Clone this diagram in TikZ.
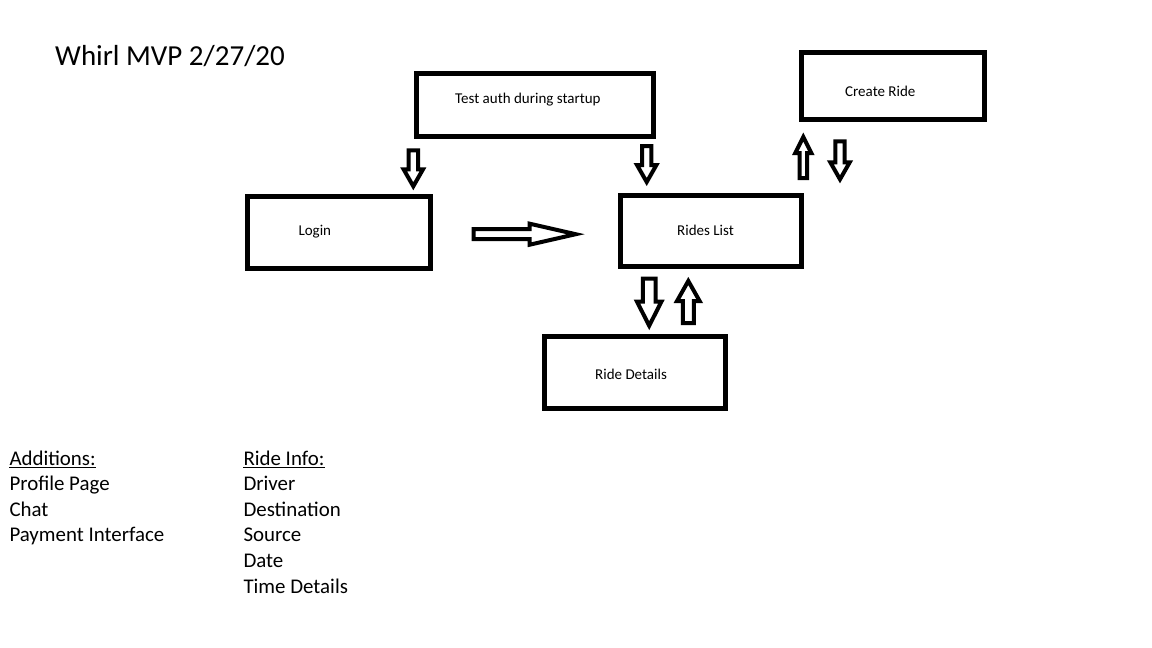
\documentclass[tikz,border=0pt]{standalone}
\usepackage{fontspec}
\setmainfont{Carlito}

\begin{document}
\begin{tikzpicture}[x=1pt,y=-1pt,
    screen/.style={draw,line width=5pt,inner sep=0pt},
    screenlabel/.style={anchor=base west,inner sep=0pt,font=\fontsize{15}{18}\selectfont},
    notes/.style={anchor=base west,inner sep=0pt,font=\fontsize{20.9}{26}\selectfont},
    arrowline/.style={line width=4pt,line join=miter},
    pics/blockarrow/.style args={#1/#2/#3/#4}{code={% length/head/shaft/head half widths
        \draw[arrowline] (0,#3) -- ({#1-#2},#3) -- ({#1-#2},#4) -- (#1,0)
            -- ({#1-#2},-#4) -- ({#1-#2},-#3) -- (0,-#3) -- cycle;}}]
    \fill[white] (0,0) rectangle (1152,648);% page size
    \node[anchor=base west,inner sep=0pt,font=\fontsize{29}{35}\selectfont] (title) at (55,65) {Whirl MVP 2/27/20};
    % screens
    \node[screen,minimum width=237.2,minimum height=63.5] (testAuth) at (535.1,104.75) {};
    \node[screen,minimum width=183,minimum height=67.3] (createRide) at (892.7,86.15) {};
    \node[screen,minimum width=182.7,minimum height=71.5] (login) at (338.85,232.45) {};
    \node[screen,minimum width=181.5,minimum height=71] (ridesList) at (710.75,230.5) {};
    \node[screen,minimum width=181.6,minimum height=71.5] (rideDetails) at (635,372.45) {};
    \node[screenlabel] (testAuthText) at (455,103.3) {Test auth during startup};
    \node[screenlabel] (createRideText) at (845,96.7) {Create Ride};
    \node[screenlabel] (loginText) at (298.3,235.7) {Login};
    \node[screenlabel] (ridesListText) at (677,235) {Rides List};
    \node[screenlabel] (rideDetailsText) at (595,379) {Ride Details};
    % block arrows
    \pic[rotate=-90] (toLogin) at (413.3,150.3) {blockarrow=36/17/4.7/9.7};
    \pic[rotate=-90] (toRides) at (646.7,146) {blockarrow=36/17/4.7/9.7};
    \pic (loginToRides) at (473.7,234.2) {blockarrow=102/46/5/10.5};
    \pic[rotate=90] (toCreate) at (803.3,178) {blockarrow=41/16/3.8/8};
    \pic[rotate=-90] (fromCreate) at (840,141.3) {blockarrow=38/17/4.7/9.7};
    \pic[rotate=-90] (toDetails) at (649.2,278.7) {blockarrow=47/24/6.3/12.2};
    \pic[rotate=90] (fromDetails) at (688.3,323) {blockarrow=42/20/5.5/11.3};
    % notes
    \node[notes] (additions) at (9.3,465) {Additions:};
    \draw[line width=1.3pt] ([yshift=-2pt]additions.south west) -- ([yshift=-2pt]additions.south east);
    \foreach \txt [count=\i] in {Profile Page,Chat,Payment Interface}
        \node[notes] (addition\i) at (9.3,{465+25.6*\i}) {\txt};
    \node[notes] (rideInfo) at (243.3,465) {Ride Info:};
    \draw[line width=1.3pt] ([yshift=-2pt]rideInfo.south west) -- ([yshift=-2pt]rideInfo.south east);
    \foreach \txt [count=\i] in {Driver,Destination,Source,Date,Time Details}
        \node[notes] (info\i) at (243.3,{465+25.6*\i}) {\txt};
\end{tikzpicture}
\end{document}
